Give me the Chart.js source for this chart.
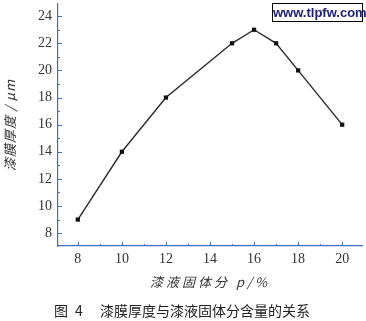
<!DOCTYPE html>
<html>
<head>
<meta charset="utf-8">
<script src="https://cdn.jsdelivr.net/npm/chart.js@4/dist/chart.umd.min.js"></script>
<style>
  body { margin: 0; background: #fff; }
  #wrap { position: relative; width: 366px; height: 321px; }
  #mark {
    position: absolute; left: 272px; top: 3px; width: 89px; height: 17px;
    border: 1.5px solid #000; font: bold 13px "Liberation Sans", Arial, sans-serif;
    color: #1c1c7a; text-align: center; line-height: 17px; background: #fff;
  }
</style>
</head>
<body>
<div id="wrap">
  <canvas id="chart" width="366" height="321"></canvas>
  <div id="mark">www.tlpfw.com</div>
</div>
<script>
// solid content p (%) vs film thickness (um)
var solids = [8, 10, 12, 15, 16, 17, 18, 20];
var thickness = [9, 14, 18, 22, 23, 22, 20, 16];
var xTicks = [8, 10, 12, 14, 16, 18, 20];
var yTicks = [8, 10, 12, 14, 16, 18, 20, 22, 24];

var axisBlue = '#3f6fc4';
var serif = '"Liberation Serif", "DejaVu Serif", serif';
var cjk = '"Noto Sans CJK SC", sans-serif';

// inward ticks, minor ticks, axis titles and caption
var extras = {
  id: 'extras',
  afterDraw: function(chart) {
    var ctx = chart.ctx;
    var x = chart.scales.x, y = chart.scales.y;
    var area = chart.chartArea;
    ctx.save();
    ctx.strokeStyle = axisBlue;
    ctx.lineWidth = 1;
    for (var i = 0; i < xTicks.length; i++) {
      var px = Math.round(x.getPixelForValue(xTicks[i])) + 0.5;
      ctx.beginPath(); ctx.moveTo(px, area.bottom); ctx.lineTo(px, area.bottom - 4); ctx.stroke();
      var mx = Math.round(x.getPixelForValue(xTicks[i] + 1)) + 0.5;
      if (mx < area.right) {
        ctx.beginPath(); ctx.moveTo(mx, area.bottom); ctx.lineTo(mx, area.bottom - 2); ctx.stroke();
      }
    }
    for (var j = 0; j < yTicks.length; j++) {
      var py = Math.round(y.getPixelForValue(yTicks[j])) + 0.5;
      ctx.beginPath(); ctx.moveTo(area.left, py); ctx.lineTo(area.left + 4, py); ctx.stroke();
      var my = Math.round(y.getPixelForValue(yTicks[j] + 1)) + 0.5;
      if (my > area.top) {
        ctx.beginPath(); ctx.moveTo(area.left, my); ctx.lineTo(area.left + 2, my); ctx.stroke();
      }
    }
    ctx.fillStyle = '#333';
    ctx.textAlign = 'center';
    ctx.textBaseline = 'middle';
    // y title
    ctx.save();
    ctx.translate(10, (area.top + area.bottom) / 2);
    ctx.rotate(-Math.PI / 2);
    ctx.font = 'italic 13px ' + cjk;
    ctx.letterSpacing = '1px';
    ctx.fillText('漆膜厚度 / μm', 0, 0);
    ctx.restore();
    // x title
    ctx.font = 'italic 13px ' + cjk;
    ctx.letterSpacing = '3px';
    ctx.fillText('漆液固体分 p/%', (area.left + area.right) / 2, 282);
    // caption
    ctx.fillStyle = '#222';
    ctx.font = '14px ' + cjk;
    ctx.letterSpacing = '0px';
    ctx.fillText('图\u2002' + '4\u2003 漆膜厚度与漆液固体分含量的关系', 182, 311);
    ctx.restore();
  }
};

var chart = new Chart(document.getElementById('chart'), {
  type: 'line',
  data: {
    datasets: [{
      data: solids.map(function(v, i) { return { x: v, y: thickness[i] }; }),
      borderColor: '#2a2a2a',
      borderWidth: 1.4,
      backgroundColor: '#111',
      pointStyle: 'rect',
      pointRadius: 3,
      pointBorderWidth: 0,
      tension: 0
    }]
  },
  options: {
    responsive: false,
    animation: false,
    layout: { padding: { top: 3, right: 3, left: 0, bottom: 0 } },
    plugins: { legend: { display: false }, tooltip: { enabled: false } },
    scales: {
      x: {
        type: 'linear',
        min: 7.1, max: 20.9,
        afterBuildTicks: function(s) { s.ticks = xTicks.map(function(v) { return { value: v }; }); },
        afterFit: function(s) { s.height = 75; s.paddingLeft = 0; s.paddingRight = 0; },
        grid: { display: true, drawOnChartArea: false, drawTicks: false },
        border: { color: axisBlue, width: 1.2 },
        ticks: { color: '#333', padding: 5, font: { family: serif, size: 14 } }
      },
      y: {
        min: 7.05, max: 24.9,
        afterBuildTicks: function(s) { s.ticks = yTicks.map(function(v) { return { value: v }; }); },
        afterFit: function(s) { s.width = 58; s.paddingTop = 0; s.paddingBottom = 0; },
        grid: { display: true, drawOnChartArea: false, drawTicks: false },
        border: { color: axisBlue, width: 1.2 },
        ticks: { color: '#333', padding: 6, font: { family: serif, size: 14 } }
      }
    }
  },
  plugins: [extras]
});
</script>
</body>
</html>
